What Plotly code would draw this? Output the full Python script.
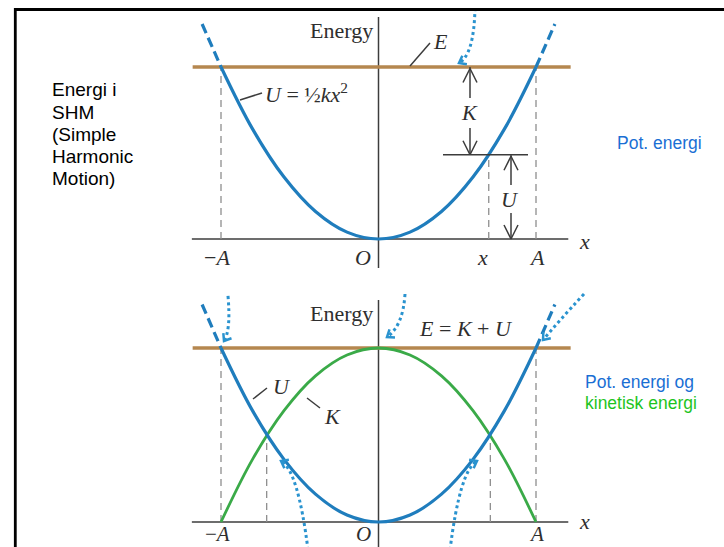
import math
import plotly.graph_objects as go

# ---------------- data (x in units of the amplitude A, energy in units of E) ----
x_pos = [-1.0, -0.8, -0.6, -0.4, -0.2, 0.0, 0.2, 0.4, 0.6, 0.8, 1.0]
U_vals = [1.0, 0.64, 0.36, 0.16, 0.04, 0.0, 0.04, 0.16, 0.36, 0.64, 1.0]
K_vals = [0.0, 0.36, 0.64, 0.84, 0.96, 1.0, 0.96, 0.84, 0.64, 0.36, 0.0]
E_total = 1.0

# dashed continuation of U beyond the turning points
U_ext_left_x = [-1.12, -1.0]
U_ext_left = [1.25, 1.0]
U_ext_right_x = [1.0, 1.12]
U_ext_right = [1.0, 1.25]

# sample position x in the upper panel and U there
x_sample = 0.70
U_sample = 0.49

# positions where K = U in the lower panel
x_equal = [-0.71, 0.71]
KU_equal = 0.5

tick_pos_top = [-1.0, 0.0, x_sample, 1.0]
tick_text_top = ["\u2212<i>A</i>", "<i>O</i>", "<i>x</i>", "<i>A</i>"]
tick_pos_bot = [-1.0, 0.0, 1.0]
tick_text_bot = ["\u2212<i>A</i>", "<i>O</i>", "<i>A</i>"]

# ---------------- page geometry ----------------
W, H = 724, 547
CX, SX = 378.5, 157.5          # pixel column of x = 0, pixels per A
Y0_TOP, SY_TOP = 239.0, 172.0  # upper panel: pixel row of energy 0, pixels per E
Y0_BOT, SY_BOT = 522.0, 174.0  # lower panel
SPLIT = 282.0                  # pixel row separating the panels

BLUE = "#1f7dbd"
DOT_BLUE = "#2a93cf"
BROWN = "#b5874f"
GREEN = "#3aaa48"
AXIS = "#3c3c3c"
DASH_GRAY = "#8e8e8e"
SERIF = "Liberation Serif"
SANS = "Liberation Sans"


def tx(px):
    return (px - CX) / SX


def ty(py, panel):
    if panel == "top":
        return (Y0_TOP - py) / SY_TOP
    return (Y0_BOT - py) / SY_BOT


def refs(panel):
    return ("x", "y") if panel == "top" else ("x2", "y2")


fig = go.Figure()

# ---------------- curves ----------------
for panel in ("top", "bot"):
    xr, yr = refs(panel)
    fig.add_trace(go.Scatter(x=[-1.18, 1.22], y=[E_total, E_total], mode="lines",
                             line=dict(color=BROWN, width=3.5), xaxis=xr, yaxis=yr,
                             hoverinfo="skip"))
    if panel == "bot":
        fig.add_trace(go.Scatter(x=x_pos, y=K_vals, mode="lines",
                                 line=dict(color=GREEN, width=2.8, shape="spline"),
                                 xaxis=xr, yaxis=yr, hoverinfo="skip"))
    fig.add_trace(go.Scatter(x=x_pos, y=U_vals, mode="lines",
                             line=dict(color=BLUE, width=3.2, shape="spline"),
                             xaxis=xr, yaxis=yr, hoverinfo="skip"))
    for ex, ey in ((U_ext_left_x, U_ext_left), (U_ext_right_x, U_ext_right)):
        fig.add_trace(go.Scatter(x=ex, y=ey, mode="lines",
                                 line=dict(color=BLUE, width=3.2, dash="10px,5px"),
                                 xaxis=xr, yaxis=yr, hoverinfo="skip"))

shapes = []


def seg(panel, x0, y0, x1, y1, color=AXIS, width=1.5, dash=None, layer="below"):
    xr, yr = refs(panel)
    ln = dict(color=color, width=width)
    if dash:
        ln["dash"] = dash
    shapes.append(dict(type="line", xref=xr, yref=yr, x0=x0, y0=y0, x1=x1, y1=y1,
                       line=ln, layer=layer))


# axes drawn as plain lines
seg("top", -1.185, 0, 1.205, 0)
seg("top", 0, ty(268, "top"), 0, ty(17, "top"))
seg("bot", -1.185, 0, 1.205, 0)
seg("bot", 0, ty(550, "bot"), 0, ty(300, "bot"))

# dashed guide verticals
for xv in (-1.0, 1.0):
    seg("top", xv, 0, xv, E_total, DASH_GRAY, 1.3, "7px,5px")
    seg("bot", xv, 0, xv, E_total, DASH_GRAY, 1.3, "7px,5px")
seg("top", x_sample, 0, x_sample, U_sample, DASH_GRAY, 1.3, "7px,5px")
for xv in x_equal:
    seg("bot", xv, 0, xv, KU_equal, DASH_GRAY, 1.3, "7px,5px")

# short level line at U(x)
seg("top", tx(443), U_sample, tx(528), U_sample, AXIS, 1.5, layer="above")

# leader lines
seg("top", tx(240), ty(100, "top"), tx(262), ty(93, "top"), AXIS, 1.5, layer="above")
seg("top", tx(410), ty(66, "top"), tx(430), ty(43, "top"), AXIS, 1.5, layer="above")
seg("bot", tx(253), ty(399, "bot"), tx(267), ty(388, "bot"), AXIS, 1.5, layer="above")
seg("bot", tx(307), ty(398, "bot"), tx(320), ty(408, "bot"), AXIS, 1.5, layer="above")

# dimension arrows for K and U (open V heads)
dim_x, dim_y = [], []


def vhead(xd, yd, up):
    s = 1 if up else -1
    hw = 7 / SX
    hl = 14 / SY_TOP
    dim_x.extend([xd - hw, xd, xd + hw, None])
    dim_y.extend([yd - s * hl, yd, yd - s * hl, None])


def shaft(xd, y0, y1):
    dim_x.extend([xd, xd, None])
    dim_y.extend([y0, y1, None])


xK = tx(470)
xU = tx(511)
shaft(xK, E_total, ty(98, "top"))
vhead(xK, E_total - 1.5 / SY_TOP, True)
shaft(xK, ty(128, "top"), U_sample)
vhead(xK, U_sample, False)
shaft(xU, U_sample, ty(185, "top"))
vhead(xU, U_sample - 1.5 / SY_TOP, True)
shaft(xU, ty(213, "top"), 0)
vhead(xU, 0, False)
fig.add_trace(go.Scatter(x=dim_x, y=dim_y, mode="lines", line=dict(color=AXIS, width=1.5),
                         xaxis="x", yaxis="y", hoverinfo="skip"))

# dotted curved pointer arrows (pixel anchors: start, control, tip)
pointers = [
    ("top", (475, 8), (474, 55), (459, 63)),
    ("bot", (228, 296), (231, 330), (224, 341)),
    ("bot", (405, 294), (403, 326), (387, 337)),
    ("bot", (584, 294), (558, 322), (543, 340)),
    ("bot", (308, 550), (298, 470), (281, 461)),
    ("bot", (450, 550), (460, 470), (477, 461)),
]
for panel, p0, pc, p1 in pointers:
    xr, yr = refs(panel)
    path = "M {:.4f},{:.4f} Q {:.4f},{:.4f} {:.4f},{:.4f}".format(
        tx(p0[0]), ty(p0[1], panel), tx(pc[0]), ty(pc[1], panel),
        tx(p1[0]), ty(p1[1], panel))
    shapes.append(dict(type="path", xref=xr, yref=yr, path=path,
                       line=dict(color=DOT_BLUE, width=3, dash="dot"), layer="above"))
    dx, dy = p1[0] - pc[0], p1[1] - pc[1]
    n = math.hypot(dx, dy)
    dx, dy = dx / n, dy / n
    hx, hy = [], []
    for a in (0.65, -0.65):
        rx = dx * math.cos(a) - dy * math.sin(a)
        ry = dx * math.sin(a) + dy * math.cos(a)
        hx.append(p1[0] - 8 * rx)
        hy.append(p1[1] - 8 * ry)
    fig.add_trace(go.Scatter(
        x=[tx(hx[0]), tx(p1[0]), tx(hx[1])],
        y=[ty(hy[0], panel), ty(p1[1], panel), ty(hy[1], panel)],
        mode="lines", line=dict(color=DOT_BLUE, width=2.5),
        xaxis=xr, yaxis=yr, hoverinfo="skip"))

# slide frame
shapes.append(dict(type="line", xref="paper", yref="paper", x0=14 / W, x1=1,
                   y0=1 - 9.5 / H, y1=1 - 9.5 / H, line=dict(color="black", width=2.8)))
shapes.append(dict(type="line", xref="paper", yref="paper", x0=15.3 / W, x1=15.3 / W,
                   y0=0, y1=1 - 8 / H, line=dict(color="black", width=2.8)))

# ---------------- text ----------------
anns = []


def text(t, px, py, size, family=SERIF, color="#2e2e2e", xanchor="center",
         yanchor="middle"):
    anns.append(dict(text=t, x=px / W, y=1 - py / H, xref="paper", yref="paper",
                     showarrow=False, xanchor=xanchor, yanchor=yanchor, align="left",
                     borderpad=0, font=dict(family=family, size=size, color=color)))


text("Energy", 374, 31, 22, xanchor="right")
text("Energy", 374, 313, 22, xanchor="right")
text("<i>U</i> = \u00bd<i>kx</i><sup>2</sup>", 264, 93, 22, xanchor="left")
text("<i>E</i>", 440, 41, 22)
text("<i>K</i>", 470, 112, 22)
text("<i>U</i>", 510, 199, 22)
text("<i>U</i>", 282, 386, 22)
text("<i>K</i>", 332, 416, 22)
text("<i>E</i> = <i>K</i> + <i>U</i>", 466, 328, 22)
text("<i>x</i>", 584, 241, 22)
text("<i>x</i>", 584, 521, 22)

tick_px_top = [217, 363, 482, 537]
for lab, px in zip(tick_text_top, tick_px_top):
    text(lab, px, 257, 22)
tick_px_bot = [217, 363, 536]
for lab, px in zip(tick_text_bot, tick_px_bot):
    text(lab, px, 547, 21, yanchor="bottom")

side_lines = ["Energi i", "SHM", "(Simple", "Harmonic", "Motion)"]
for i, t in enumerate(side_lines):
    text(t, 51, 90 + 22.2 * i, 19, SANS, "black", "left")

text("Pot. energi", 616, 143, 17.5, SANS, "#1a6fd4", "left")
text("Pot. energi og", 584, 382, 17.5, SANS, "#1a6fd4", "left")
text("kinetisk energi", 584, 403, 17.5, SANS, "#1ec41e", "left")

# ---------------- layout ----------------
ax_common = dict(visible=False, showgrid=False, zeroline=False, fixedrange=True)
split_frac = 1 - SPLIT / H
fig.update_layout(
    width=W, height=H,
    margin=dict(l=0, r=0, t=0, b=0, pad=0),
    paper_bgcolor="white", plot_bgcolor="rgba(0,0,0,0)",
    showlegend=False,
    xaxis=dict(domain=[0, 1], range=[tx(0), tx(W)], anchor="y", **ax_common),
    yaxis=dict(domain=[split_frac, 1], range=[ty(SPLIT, "top"), ty(0, "top")],
               anchor="x", **ax_common),
    xaxis2=dict(domain=[0, 1], range=[tx(0), tx(W)], anchor="y2", **ax_common),
    yaxis2=dict(domain=[0, split_frac], range=[ty(H, "bot"), ty(SPLIT, "bot")],
                anchor="x2", **ax_common),
    shapes=shapes,
    annotations=anns,
)

fig.write_html("out.html")
